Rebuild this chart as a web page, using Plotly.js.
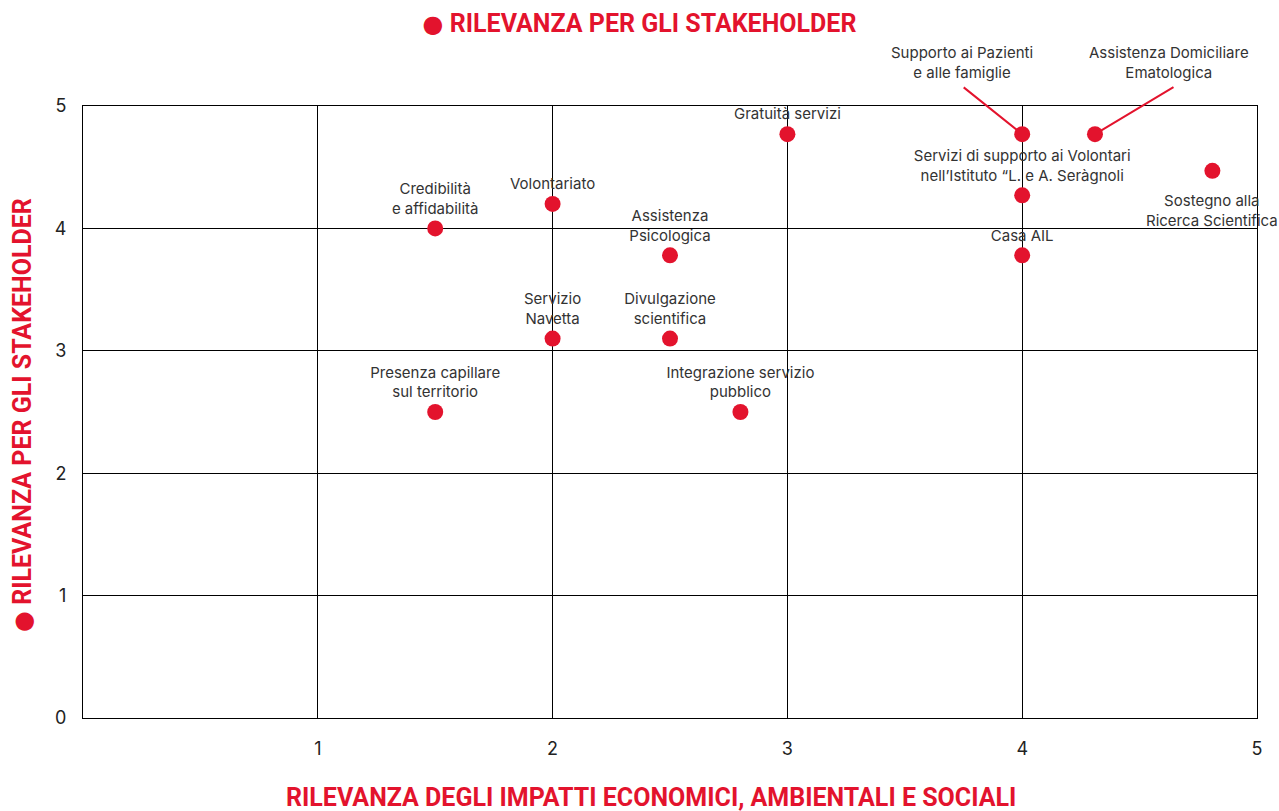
<!DOCTYPE html>
<html>
<head>
<meta charset="utf-8">
<script src="https://cdn.plot.ly/plotly-3.0.1.min.js"></script>
<style>
  html, body { margin: 0; padding: 0; background: #fff; }
  #chart { width: 1279px; height: 811px; }
</style>
</head>
<body>
<div id="chart"></div>
<script>
// dati
const temi = [
  "Credibilità<br>e affidabilità",
  "Volontariato",
  "Assistenza<br>Psicologica",
  "Servizio<br>Navetta",
  "Divulgazione<br>scientifica",
  "Presenza capillare<br>sul territorio",
  "Integrazione servizio<br>pubblico",
  "Gratuità servizi",
  "Supporto ai Pazienti<br>e alle famiglie",
  "Assistenza Domiciliare<br>Ematologica",
  "Servizi di supporto ai Volontari<br>nell’Istituto “L. e A. Seràgnoli",
  "Sostegno alla<br>Ricerca Scientifica",
  "Casa AIL"
];
const impatti = [1.5, 2, 2.5, 2, 2.5, 1.5, 2.8, 3, 4, 4.31, 4, 4.81, 4];
const stakeholder = [4, 4.2, 3.78, 3.1, 3.1, 2.5, 2.5, 4.77, 4.77, 4.77, 4.27, 4.47, 3.78];
const tickX = [1, 2, 3, 4, 5];
const tickY = [0, 1, 2, 3, 4, 5];

const rosso = "#e3132d";
const fontTesto = "Inter, 'Noto Sans', sans-serif";
const fontTitoli = "Roboto, 'Liberation Sans Narrow', sans-serif";
const pallino = "<span style='font-family:DejaVu Sans;font-size:24px'>●</span>";

// etichette spostate: [xshift, yshift, linea dx, linea dy]
const spostate = {
  8: [-60, 72, -60, -48],
  9: [74, 72, 80, -48],
  11: [0, -40, null, null]
};

const etichette = temi.map((t, i) => (spostate[i] ? "" : t));

const trace = {
  x: impatti,
  y: stakeholder,
  mode: "markers+text",
  type: "scatter",
  text: etichette,
  textposition: "top center",
  textfont: { family: fontTesto, size: 15, color: "#333" },
  marker: { color: rosso, size: 16 },
  cliponaxis: false,
  hoverinfo: "skip"
};

const annotazioni = [];
Object.keys(spostate).forEach(k => {
  const s = spostate[k];
  annotazioni.push({
    x: impatti[k], y: stakeholder[k], xref: "x", yref: "y",
    text: temi[k],
    showarrow: false,
    xshift: s[0], yshift: s[1],
    xanchor: "center", yanchor: "middle",
    font: { family: fontTesto, size: 15, color: "#333" }
  });
  if (s[2] !== null) {
    annotazioni.push({
      x: impatti[k], y: stakeholder[k], xref: "x", yref: "y",
      text: "",
      showarrow: true,
      arrowhead: 0,
      arrowwidth: 2,
      arrowcolor: rosso,
      ax: s[2], ay: s[3],
      standoff: 6
    });
  }
});

annotazioni.push({
  text: "RILEVANZA DEGLI IMPATTI ECONOMICI, AMBIENTALI E SOCIALI",
  xref: "paper", yref: "paper",
  x: 0.4838, y: -(797 - 718) / 612,
  xanchor: "center", yanchor: "middle",
  showarrow: false,
  font: { family: fontTitoli, size: 25, color: rosso, weight: "bold" }
});
annotazioni.push({
  text: pallino + " RILEVANZA PER GLI STAKEHOLDER",
  xref: "paper", yref: "paper",
  x: -(83 - 22) / 1174, y: (718 - 415) / 612,
  xanchor: "center", yanchor: "middle",
  textangle: -90,
  showarrow: false,
  font: { family: fontTitoli, size: 25, color: rosso, weight: "bold" }
});

const layout = {
  width: 1279,
  height: 811,
  margin: { l: 83, r: 22, t: 106, b: 93 },
  paper_bgcolor: "#fff",
  plot_bgcolor: "#fff",
  showlegend: false,
  title: {
    text: pallino + " RILEVANZA PER GLI STAKEHOLDER",
    x: 0.5, xanchor: "center",
    y: 1 - 23 / 811, yanchor: "middle",
    font: { family: fontTitoli, size: 25, color: rosso, weight: "bold" }
  },
  xaxis: {
    range: [0, 5],
    tickvals: tickX,
    showgrid: true,
    gridcolor: "#000",
    gridwidth: 1,
    zeroline: false,
    showline: true,
    linecolor: "#000",
    mirror: true,
    ticks: "",
    ticklabelstandoff: 14,
    tickfont: { family: fontTesto, size: 18, color: "#222" },
    fixedrange: true
  },
  yaxis: {
    range: [0, 5],
    tickvals: tickY,
    showgrid: true,
    gridcolor: "#000",
    gridwidth: 1,
    zeroline: false,
    showline: true,
    linecolor: "#000",
    mirror: true,
    ticks: "",
    ticklabelstandoff: 12,
    tickfont: { family: fontTesto, size: 18, color: "#222" },
    fixedrange: true
  },
  annotations: annotazioni
};

Plotly.newPlot("chart", [trace], layout, { displayModeBar: false, staticPlot: true });
</script>
</body>
</html>
